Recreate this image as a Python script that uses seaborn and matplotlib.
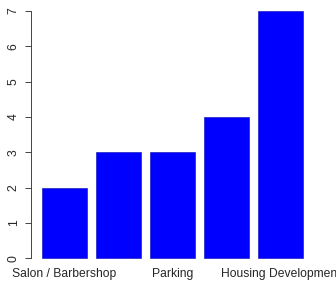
import matplotlib
matplotlib.use("Agg")
import matplotlib.pyplot as plt
import seaborn as sns

# categories (2nd and 4th names are not printed in the reference)
categories = ["Salon / Barbershop", "Category 2", "Parking", "Category 4", "Housing Development"]
counts = [2, 3, 3, 4, 7]
shown_labels = ["Salon / Barbershop", "", "Parking", "", "Housing Development"]
y_ticks = [0, 1, 2, 3, 4, 5, 6, 7]

sns.set_style("white")
plt.rcParams["font.family"] = ["Liberation Sans", "DejaVu Sans"]

fig = plt.figure(figsize=(3.36, 2.83), dpi=100)
ax = fig.add_axes([0.092, 0.053, 0.869, 0.943])

sns.barplot(x=categories, y=counts, order=categories, color="#0000ff",
            saturation=1, width=0.833, edgecolor="#2020c0", linewidth=0.5, ax=ax)

ax.set_xlim(-0.62, 4.787)
ax.set_ylim(-0.28, 7.28)

for s in ["top", "right", "bottom"]:
    ax.spines[s].set_visible(False)
ax.spines["left"].set_bounds(0, 7)
ax.spines["left"].set_color("#444444")
ax.spines["left"].set_linewidth(0.7)

ax.set_yticks(y_ticks)
ax.set_yticklabels([str(t) for t in y_ticks], rotation=90, va="center", fontsize=8.7)
ax.tick_params(axis="y", direction="out", length=4, width=0.7, color="#444444", pad=4, left=True)

ax.set_xticks(range(len(categories)))
ax.set_xticklabels(shown_labels, fontsize=8.7)
ax.tick_params(axis="x", length=0, pad=0)

ax.set_xlabel("")
ax.set_ylabel("")

fig.savefig("out.png", dpi=100)
